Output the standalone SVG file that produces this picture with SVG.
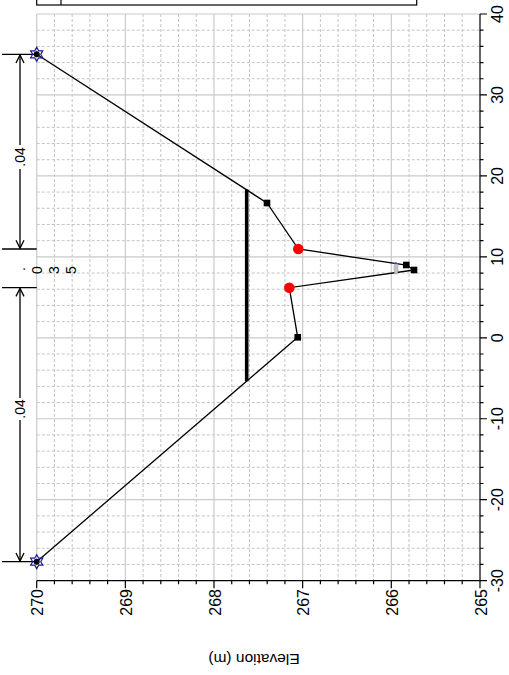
<svg xmlns="http://www.w3.org/2000/svg" width="509" height="675" viewBox="0 0 509 675">
<style>
text{font-family:"Liberation Sans",Arial,sans-serif;fill:#000}
.tick{font-size:16px}
.nval{font-size:14px}
.minor{stroke:#c4c4c4;stroke-width:1;stroke-dasharray:3,2;fill:none}
.major{stroke:#cacaca;stroke-width:1.2;fill:none}
.ax{stroke:#000;stroke-width:1.2;fill:none}
.dim{stroke:#000;stroke-width:1.3;fill:none}
.sq{fill:#000}
.red{fill:#ff0000}
</style>
<defs>
<g id="star"><path d="M0,-7 L2.02,-3.5 L6.06,-3.5 L4.04,0 L6.06,3.5 L2.02,3.5 L0,7 L-2.02,3.5 L-6.06,3.5 L-4.04,0 L-6.06,-3.5 L-2.02,-3.5 Z" fill="none" stroke="#1a1a9a" stroke-width="1.2"/><circle r="3" fill="#000"/></g>
</defs>
<rect width="509" height="675" fill="#fff"/>
<g id="legend"><rect x="36.7" y="-40" width="380" height="45" fill="#fff" stroke="#000" stroke-width="1.2"/><line x1="61" y1="-40" x2="61" y2="5" stroke="#000" stroke-width="1.2"/></g>
<g id="grid">
<path class="minor" d="M54.43,14V580.65M72.16,14V580.65M89.89,14V580.65M107.62,14V580.65M143.08,14V580.65M160.81,14V580.65M178.54,14V580.65M196.27,14V580.65M231.73,14V580.65M249.46,14V580.65M267.19,14V580.65M284.92,14V580.65M320.38,14V580.65M338.11,14V580.65M355.84,14V580.65M373.57,14V580.65M409.03,14V580.65M426.76,14V580.65M444.49,14V580.65M462.22,14V580.65
M36.7,30.19H480M36.7,46.38H480M36.7,62.57H480M36.7,78.76H480M36.7,111.14H480M36.7,127.33H480M36.7,143.52H480M36.7,159.71H480M36.7,192.09H480M36.7,208.28H480M36.7,224.47H480M36.7,240.66H480M36.7,273.04H480M36.7,289.23H480M36.7,305.42H480M36.7,321.61H480M36.7,353.99H480M36.7,370.18H480M36.7,386.37H480M36.7,402.56H480M36.7,434.94H480M36.7,451.13H480M36.7,467.32H480M36.7,483.51H480M36.7,515.89H480M36.7,532.08H480M36.7,548.27H480M36.7,564.46H480"/>
<path class="major" d="M36.7,14V580.65M125.35,14V580.65M214,14V580.65M302.65,14V580.65M391.3,14V580.65M36.7,14H480M36.7,94.95H480M36.7,175.9H480M36.7,256.85H480M36.7,337.8H480M36.7,418.75H480M36.7,499.7H480"/>
</g>
<g id="axes">
<path class="ax" d="M36.7,580.65H480V14"/>
<path class="ax" d="M36.7,580.65v7.5M54.43,580.65v3.5M72.16,580.65v3.5M89.89,580.65v3.5M107.62,580.65v3.5M125.35,580.65v7.5M143.08,580.65v3.5M160.81,580.65v3.5M178.54,580.65v3.5M196.27,580.65v3.5M214,580.65v7.5M231.73,580.65v3.5M249.46,580.65v3.5M267.19,580.65v3.5M284.92,580.65v3.5M302.65,580.65v7.5M320.38,580.65v3.5M338.11,580.65v3.5M355.84,580.65v3.5M373.57,580.65v3.5M391.3,580.65v7.5M409.03,580.65v3.5M426.76,580.65v3.5M444.49,580.65v3.5M462.22,580.65v3.5M480,580.65v7.5
M480,14h7M480,30.19h3.5M480,46.38h3.5M480,62.57h3.5M480,78.76h3.5M480,94.95h7M480,111.14h3.5M480,127.33h3.5M480,143.52h3.5M480,159.71h3.5M480,175.9h7M480,192.09h3.5M480,208.28h3.5M480,224.47h3.5M480,240.66h3.5M480,256.85h7M480,273.04h3.5M480,289.23h3.5M480,305.42h3.5M480,321.61h3.5M480,337.8h7M480,353.99h3.5M480,370.18h3.5M480,386.37h3.5M480,402.56h3.5M480,418.75h7M480,434.94h3.5M480,451.13h3.5M480,467.32h3.5M480,483.51h3.5M480,499.7h7M480,515.89h3.5M480,532.08h3.5M480,548.27h3.5M480,564.46h3.5M480,580.65h7"/>
<g class="tick" text-anchor="end">
<text transform="translate(43.2,589) rotate(-90)">270</text>
<text transform="translate(131.85,589) rotate(-90)">269</text>
<text transform="translate(220.5,589) rotate(-90)">268</text>
<text transform="translate(309.15,589) rotate(-90)">267</text>
<text transform="translate(397.8,589) rotate(-90)">266</text>
<text transform="translate(486.5,589) rotate(-90)">265</text>
</g>
<g class="tick" text-anchor="middle">
<text transform="translate(503,14) rotate(-90)">40</text>
<text transform="translate(503,94.95) rotate(-90)">30</text>
<text transform="translate(503,175.9) rotate(-90)">20</text>
<text transform="translate(503,256.85) rotate(-90)">10</text>
<text transform="translate(503,337.8) rotate(-90)">0</text>
<text transform="translate(503,418.75) rotate(-90)">-10</text>
<text transform="translate(503,499.7) rotate(-90)">-20</text>
<text transform="translate(503,580.65) rotate(-90)">-30</text>
</g>
<text transform="translate(254,654) rotate(180)" text-anchor="middle" font-size="15.5">Elevation (m)</text>
</g>
<g id="connectors">
<line id="water-surface" x1="246.7" y1="189.6" x2="246.7" y2="381.3" stroke="#000" stroke-width="3.6"/>
<polyline id="ground" points="36.7,54.3 267,203 298.3,249 406.3,265 414,270 289.3,287.7 297.7,337.3 36.7,561.7" fill="none" stroke="#000" stroke-width="1.3"/>
<g id="n-dimensions" class="dim">
<path d="M2,54.3H36.7M2,249H36.7M2,287.7H36.7M2,561.7H36.7"/>
<path d="M20,55V145M20,169V248.3M20,288.4V398M20,420V561"/>
<path d="M16,63 L20,55 L24,63M16,240.3 L20,248.3 L24,240.3M16,296.4 L20,288.4 L24,296.4M16,553 L20,561 L24,553"/>
</g>
</g>
<g id="n-labels" class="nval" text-anchor="middle">
<text transform="translate(25,157) rotate(-90)">.04</text>
<text transform="translate(25,409) rotate(-90)">.04</text>
<text transform="translate(25,269) rotate(-90)">.</text>
<text transform="translate(42,270) rotate(-90)">0</text>
<text transform="translate(59,270) rotate(-90)">3</text>
<text transform="translate(76,270) rotate(-90)">5</text>
</g>
<g id="nodes">
<g id="star-right"><use href="#star" x="36.7" y="54.3"/></g>
<g id="star-left"><use href="#star" x="36.7" y="561.7"/></g>
<g id="pt-1"><rect class="sq" x="263.7" y="199.7" width="6.6" height="6.6"/></g>
<g id="bank-right"><circle class="red" cx="298.3" cy="249" r="5.3"/></g>
<g id="pt-2"><rect class="sq" x="403" y="261.7" width="6.6" height="6.6"/></g>
<g id="pt-3"><rect class="sq" x="410.7" y="266.7" width="6.6" height="6.6"/></g>
<g id="gray-marker"><ellipse cx="396" cy="268.5" rx="2" ry="5.8" fill="#c4c4c4" stroke="#a8a8b8" stroke-width="0.8"/><circle cx="396" cy="263.2" r="1" fill="#3a3acc"/></g>
<g id="bank-left"><circle class="red" cx="289.3" cy="287.7" r="5.3"/></g>
<g id="pt-4"><rect class="sq" x="294.4" y="334" width="6.6" height="6.6"/></g>
</g>
</svg>
